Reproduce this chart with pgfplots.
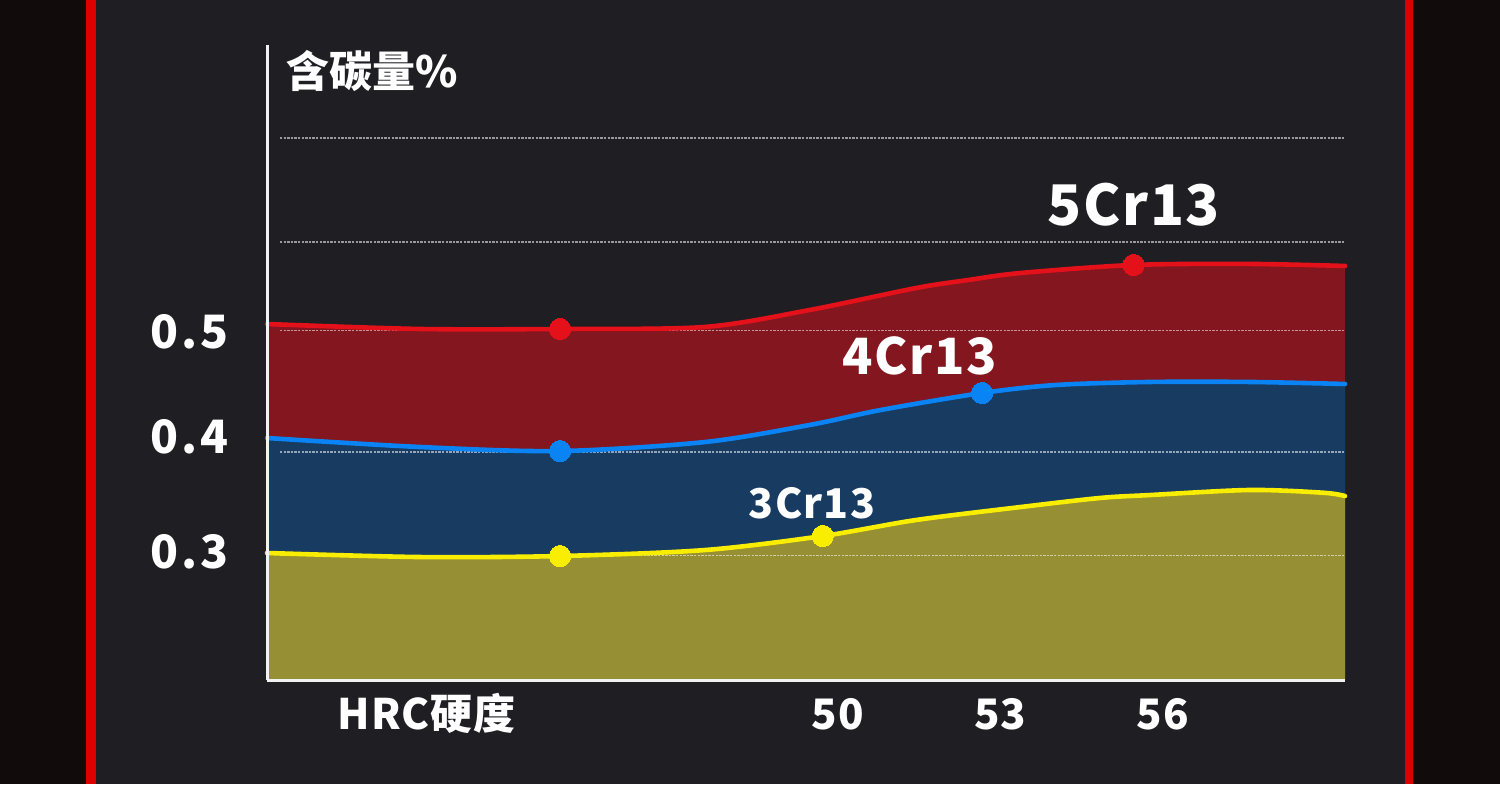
\documentclass[border=0pt]{standalone}
\usepackage{pgfplots}
\pgfplotsset{compat=1.18}
\usepackage{pgfplotstable}
\usepackage{fontspec}
\setmainfont{Noto Sans CJK SC}
\definecolor{outer}{HTML}{110B0B}
\definecolor{redbar}{HTML}{DD0000}
\definecolor{bg}{HTML}{1F1E23}
\definecolor{redline}{HTML}{E5111A}
\definecolor{redfill}{HTML}{83161E}
\definecolor{blueline}{HTML}{0A84F5}
\definecolor{bluefill}{HTML}{183B62}
\definecolor{yellowline}{HTML}{FAEE00}
\definecolor{yellowfill}{HTML}{978F33}
\definecolor{axisw}{HTML}{F2F2F2}

\pgfplotstableread{
x y
39.46 0.5053
42.28 0.5009
44.87 0.5009
47.54 0.5027
49.48 0.5178
51.44 0.5373
52.40 0.5444
53.38 0.5507
55.46 0.5578
57.61 0.5587
59.36 0.5569
}\redtab
\pgfplotstableread{
x y
39.46 0.4040
42.28 0.3960
44.87 0.3924
47.54 0.4004
49.48 0.4156
50.79 0.4289
52.66 0.4440
54.02 0.4511
55.76 0.4538
57.61 0.4538
59.36 0.4520
}\bluetab
\pgfplotstableread{
x y
39.46 0.3018
42.28 0.2982
44.87 0.2991
47.54 0.3044
49.72 0.3169
51.44 0.3311
53.38 0.3427
54.84 0.3507
55.76 0.3533
57.61 0.3578
58.97 0.3553
59.36 0.3524
}\yellowtab

\begin{document}
\begin{tikzpicture}[x=1pt,y=1pt]
\fill[outer] (0,0) rectangle (750,392);
\fill[bg] (48,0) rectangle (702.5,392);
\fill[redbar] (43,0) rectangle (48,392);
\fill[redbar] (702.5,0) rectangle (706.5,392);
\begin{axis}[
  at={(133.5pt,52pt)}, anchor=south west,
  width=539pt, height=317.5pt, scale only axis,
  xmin=39.46, xmax=59.36, ymin=0.1889, ymax=0.7533,
  axis on top,
  axis x line*=bottom, axis y line*=left,
  axis line style={draw=axisw, line width=1.5pt},
  tick style={draw=none},
  major tick length=0pt,
  /pgf/number format/assume math mode=true,
  xtick={42.41,50,53,56},
  xticklabels={HRC硬度,50,53,56},
  xticklabel style={anchor=base, yshift=-24.5pt, inner sep=0pt, text=white,
    font=\fontsize{21}{21}\selectfont\bfseries\addfontfeature{LetterSpace=2}},
  ytick={0.3027,0.4049,0.4982},
  yticklabels={0.3,0.4,0.5},
  yticklabel style={anchor=east, xshift=-19pt, inner sep=0pt, text=white,
    font=\fontsize{23}{23}\selectfont\bfseries\addfontfeature{LetterSpace=6}},
  clip=false,
  gridline/.style={draw=white, opacity=0.55, line width=0.6pt, dash pattern=on 1.2pt off 0.6pt},
]
\addplot[fill=redfill, draw=none, smooth] table {\redtab} \closedcycle;
\addplot[fill=bluefill, draw=none, smooth] table {\bluetab} \closedcycle;
\addplot[fill=yellowfill, draw=none, smooth] table {\yellowtab} \closedcycle;

\addplot[gridline] coordinates {(39.70,0.2994) (59.36,0.2994)};
\addplot[gridline] coordinates {(39.70,0.3916) (59.36,0.3916)};
\addplot[gridline] coordinates {(39.70,0.4994) (59.36,0.4994)};
\addplot[gridline] coordinates {(39.70,0.5782) (59.36,0.5782)};
\addplot[gridline] coordinates {(39.70,0.6707) (59.36,0.6707)};

\addplot[draw=redline, line width=2.3pt, smooth, line cap=round] table {\redtab};
\addplot[draw=blueline, line width=2.3pt, smooth, line cap=round] table {\bluetab};
\addplot[draw=yellowline, line width=2.3pt, smooth, line cap=round] table {\yellowtab};

\addplot[only marks, color=redline, mark=*, mark size=5.3pt, mark options={fill=redline, draw=redline, line width=0pt}] coordinates {(44.87,0.5009) (55.46,0.5578)};
\addplot[only marks, color=blueline, mark=*, mark size=5.3pt, mark options={fill=blueline, draw=blueline, line width=0pt}] coordinates {(44.87,0.3924) (52.66,0.4440)};
\addplot[only marks, color=yellowline, mark=*, mark size=5.3pt, mark options={fill=yellowline, draw=yellowline, line width=0pt}] coordinates {(44.87,0.2991) (49.72,0.3169)};

\node[text=white, inner sep=0pt, font=\fontsize{28}{28}\selectfont\bfseries\addfontfeature{LetterSpace=3}] at (axis cs:55.46,0.6111) {5Cr13};
\node[text=white, inner sep=0pt, font=\fontsize{25}{25}\selectfont\bfseries\addfontfeature{LetterSpace=3}] at (axis cs:51.51,0.4773) {4Cr13};
\node[text=white, inner sep=0pt, font=\fontsize{20.5}{20.5}\selectfont\bfseries\addfontfeature{LetterSpace=3}] at (axis cs:49.52,0.3462) {3Cr13};
\node[text=white, inner sep=0pt, font=\fontsize{21.5}{21.5}\selectfont\bfseries] at (axis cs:41.40,0.7298) {含碳量\%};
\end{axis}
\end{tikzpicture}
\end{document}
